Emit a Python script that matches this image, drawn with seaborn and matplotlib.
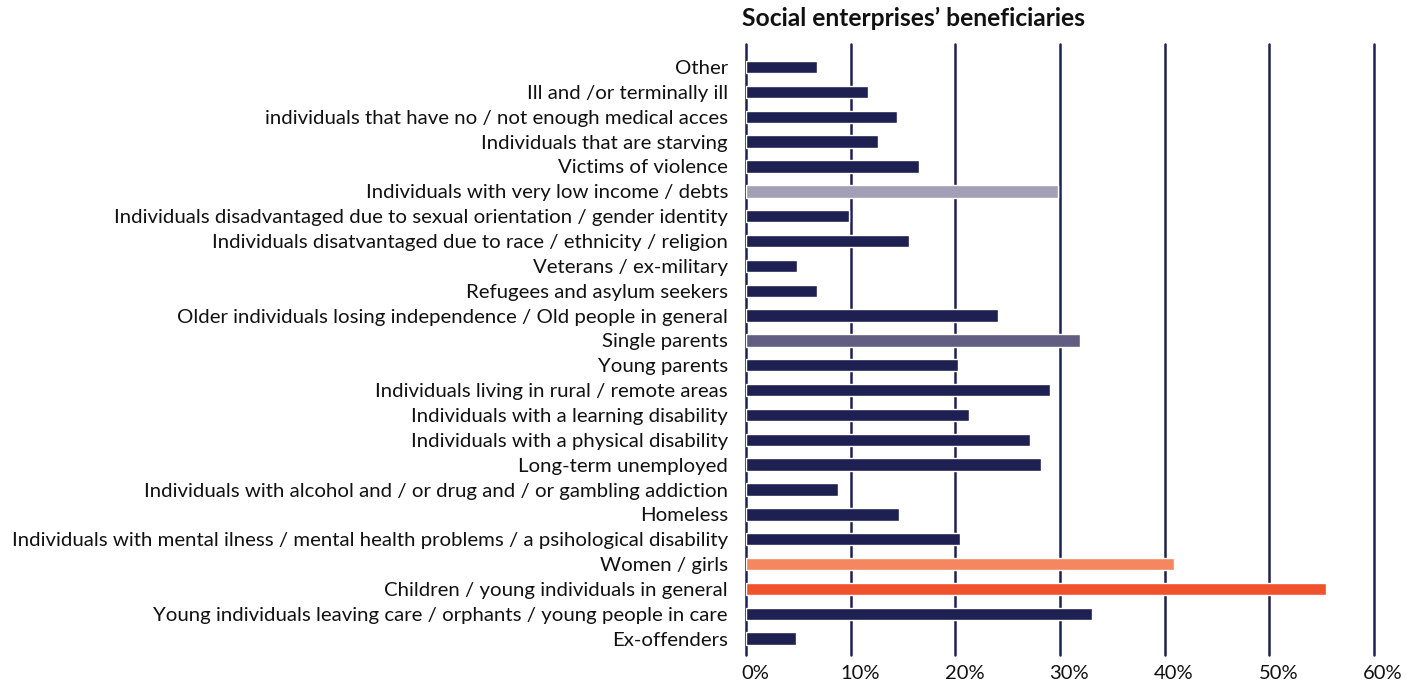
import matplotlib
matplotlib.use("Agg")
import matplotlib.pyplot as plt
import matplotlib.transforms as mtransforms
import pandas as pd
import seaborn as sns

# Beneficiary groups, top to bottom as in the chart
categories = [
    "Other",
    "Ill and /or terminally ill",
    "individuals that have no / not enough medical acces",
    "Individuals that are starving",
    "Victims of violence",
    "Individuals with very low income / debts",
    "Individuals disadvantaged due to sexual orientation / gender identity",
    "Individuals disatvantaged due to race / ethnicity / religion",
    "Veterans / ex-military",
    "Refugees and asylum seekers",
    "Older individuals losing independence / Old people in general",
    "Single parents",
    "Young parents",
    "Individuals living in rural / remote areas",
    "Individuals with a learning disability",
    "Individuals with a physical disability",
    "Long-term unemployed",
    "Individuals with alcohol and / or drug and / or gambling addiction",
    "Homeless",
    "Individuals with mental ilness / mental health problems / a psihological disability",
    "Women / girls",
    "Children / young individuals in general",
    "Young individuals leaving care / orphants / young people in care",
    "Ex-offenders",
]
# share of social enterprises (%)
shares = [6.8, 11.7, 14.4, 12.6, 16.5, 29.8, 9.8, 15.6, 4.9, 6.8, 24.1, 31.9,
          20.3, 29.0, 21.3, 27.1, 28.2, 8.8, 14.6, 20.4, 40.9, 55.4, 33.1, 4.8]

navy = "#1d2051"
highlight = {
    "Individuals with very low income / debts": "#a39fb6",
    "Single parents": "#625e81",
    "Women / girls": "#f4875f",
    "Children / young individuals in general": "#f0522d",
}
palette = {c: highlight.get(c, navy) for c in categories}

df = pd.DataFrame({"group": categories, "share": shares})

sns.set_style("white")
plt.rcParams["font.family"] = ["Lato", "DejaVu Sans"]

fig = plt.figure(figsize=(14.19, 6.86), dpi=100)
ax = fig.add_axes([0.5257, 0.0452, 0.4426, 0.8907])

sns.barplot(data=df, x="share", y="group", hue="group", palette=palette,
            orient="h", width=0.5, saturation=1, legend=False, ax=ax)

ax.set_xlim(0, 60)
ax.set_ylim(len(categories) - 1 + 0.66, -0.93)
ax.set_xticks(range(0, 61, 10))
ax.set_xticklabels([f"{v}%" for v in range(0, 61, 10)])
for v in range(0, 61, 10):
    ax.axvline(v, color=navy, lw=1.8, zorder=0, clip_on=False)

for s in ax.spines.values():
    s.set_visible(False)
ax.set_xlabel("")
ax.set_ylabel("")
ax.tick_params(axis="y", length=0, pad=13, labelsize=14.7, labelcolor="#111111")
ax.tick_params(axis="x", length=0, pad=7, labelsize=14.5, labelcolor="#111111")

offset = mtransforms.ScaledTranslation(9 / 100, 0, fig.dpi_scale_trans)
for lbl in ax.get_xticklabels():
    lbl.set_transform(lbl.get_transform() + offset)

fig.text(742 / 1419, 1 - 18 / 686, "Social enterprises\u2019 beneficiaries",
         ha="left", va="center", fontsize=17.7, fontweight="bold", color="#111111")

fig.savefig("out.png", dpi=100)
